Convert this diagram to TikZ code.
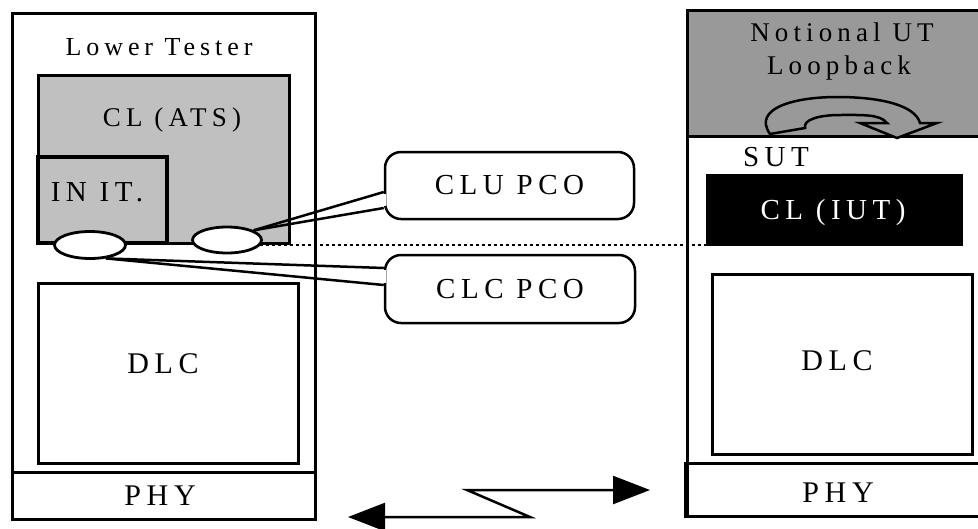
\documentclass[tikz,border=0pt]{standalone}
\usepackage{fontspec}
\setmainfont{Liberation Serif}[LetterSpace=19]
\usetikzlibrary{positioning,shapes.geometric,arrows.meta,calc}
\definecolor{atsgray}{RGB}{192,192,192}
\definecolor{utgray}{RGB}{153,153,153}
\tikzstyle{box}=[draw, line width=3pt, inner sep=0pt]
\tikzstyle{lbl}=[inner sep=0pt, text height=19pt, text depth=0pt, font=\fontsize{29}{31}\selectfont]
\tikzstyle{pco}=[draw, line width=2.5pt, rounded corners=16pt, fill=white, inner sep=0pt, minimum height=67pt, minimum width=249pt, font=\fontsize{29}{31}\selectfont]
\tikzstyle{port}=[draw, ellipse, line width=2.8pt, fill=white, inner sep=0pt, minimum width=70pt, minimum height=27pt]
\tikzstyle{link}=[line width=2.5pt, {Triangle[length=37pt,width=28pt]}-{Triangle[length=37pt,width=28pt]}]

\begin{document}
\begin{tikzpicture}[x=1pt,y=-1pt,>=latex]
\clip (0,0) rectangle (978,528);
\fill[white] (0,0) rectangle (978,528);

% lower tester side
\node[box, minimum width=303pt, minimum height=506pt] at (163.5,266) (lt) {};
\node[box, fill=atsgray, minimum width=251pt, minimum height=168pt] at (163.5,159) (ats) {};
\node[box, line width=3.5pt, fill=atsgray, minimum width=129pt, minimum height=86pt] at (102.5,200) (init) {};
\node[box, minimum width=260pt, minimum height=180pt] at (168,373) (dlc1) {};
\node[box, minimum width=303pt, minimum height=47pt] at (163.5,495.5) (phy1) {};

\node[lbl, font=\fontsize{26}{28}\selectfont, text height=17pt] at (159,47) (ltlbl) {Lower Tester};
\node[lbl, font=\fontsize{27}{29}\selectfont, text height=18pt] at (172,117) (atslbl) {CL (ATS)};
\node[lbl] at (97,192) (initlbl) {IN IT.};
\node[lbl, font=\fontsize{30}{32}\selectfont, text height=20pt] at (163,363) (dlc1lbl) {DLC};
\node[lbl, font=\fontsize{30}{32}\selectfont, text height=20pt] at (160,495) (phy1lbl) {PHY};

% SUT side
\node[box, minimum width=308pt, minimum height=506pt] at (841,263) (sut) {};
\node[box, fill=utgray, minimum width=308pt, minimum height=126pt] at (841,73) (loop) {};
\node[box, fill=black, minimum width=254pt, minimum height=69pt] at (834,209.5) (iut) {};
\node[box, minimum width=260pt, minimum height=180pt] at (842,364) (dlc2) {};
\node[box, minimum width=310pt, minimum height=53pt] at (840,489.5) (phy2) {};

\filldraw[fill=utgray, line width=2.5pt] (770,134) .. controls (752,108) and (795,97) .. (837,97)
  .. controls (880,97) and (915,105) .. (920,123) -- (937,123) -- (897,138) -- (860,123) -- (887,123)
  .. controls (880,114) and (862,115) .. (840,115) .. controls (818,115) and (803,120) .. (805,128) -- cycle;

\node[lbl, font=\fontsize{27}{29}\selectfont, text height=18pt] at (842,32) (looplbl1) {Notional UT};
\node[lbl, font=\fontsize{27}{29}\selectfont, text height=18pt] at (839,65) (looplbl2) {Loopback};
\node[lbl] at (776,157) (sutlbl) {SUT};
\node[lbl, text=white] at (833,210) (iutlbl) {CL (IUT)};
\node[lbl, font=\fontsize{30}{32}\selectfont, text height=20pt] at (837,360) (dlc2lbl) {DLC};
\node[lbl, font=\fontsize{30}{32}\selectfont, text height=20pt] at (838,492) (phy2lbl) {PHY};

% points of control and observation
\coordinate (dotend) at (780,245);
\draw[line width=2.5pt, dash pattern=on 2.5pt off 3.5pt] (260,245) -- (dotend);
\node[port, minimum width=71pt] at (90,245) (pclc) {};
\node[port, minimum width=69pt, minimum height=26pt] at (227,240) (pclu) {};

\node[pco] at (509.5,185.5) (clu) {CLU PCO};
\node[pco, minimum width=250pt, minimum height=68pt] at (510,289) (clc) {CLC PCO};

\fill[white] ($(clu.west)+(-2,8.5)$) rectangle ($(clu.west)+(2,20.5)$);
\draw[line width=2.5pt] (pclu.20) -- ($(clu.west)+(0,6.5)$);
\draw[line width=2.5pt] (pclu.20) -- ($(clu.west)+(0,22.5)$);
\fill[white] ($(clc.west)+(-2,-19)$) rectangle ($(clc.west)+(2,-6)$);
\draw[line width=2.5pt] (pclc.-40) -- ($(clc.west)+(0,-21)$);
\draw[line width=2.5pt] (pclc.-40) -- ($(clc.west)+(0,-4)$);

% link
\coordinate (lnkL) at (348,517);
\coordinate (zigB) at (530,517);
\coordinate (zigA) at (467,490);
\coordinate (lnkR) at (650,490);
\draw[link] (lnkL) -- (zigB) -- (zigA) -- (lnkR);
\end{tikzpicture}
\end{document}
